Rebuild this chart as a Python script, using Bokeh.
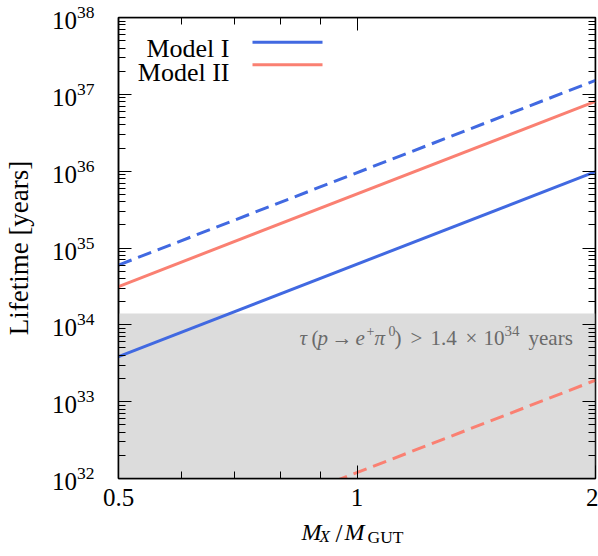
from bokeh.plotting import figure
from bokeh.layouts import column
from bokeh.models import (FixedTicker, LogAxis, Label, BoxAnnotation, Range1d,
                          BasicTickFormatter, CustomJSTickFormatter)
from bokeh.core.properties import value
from bokeh.embed import file_html
from bokeh.resources import INLINE

# ---- data ----
mass_ratio = [0.5, 2.0]                 # M_X / M_GUT
model1_solid = [3.85e33, 9.85e35]
model1_dashed = [6.0e34, 1.52e37]
model2_solid = [3.15e34, 8.1e36]
model2_dashed = [7.5e30, 1.9e33]
limit_lifetime = 1.4e34                 # bound on p -> e+ pi0
y_floor = 1e32

x_major = [0.5, 1, 2]
x_minor = [0.6, 0.7, 0.8, 0.9]
y_exponents = [32, 33, 34, 35, 36, 37, 38]
y_minor_mult = [2, 3, 4, 5, 6, 7, 8, 9]

BLUE = "#4169e1"
RED = "#fa8072"
GREY = "#6a6a6a"
SERIF = "Liberation Serif"

y_major = [10.0 ** e for e in y_exponents]
y_minor = [m * 10.0 ** e for e in y_exponents[:-1] for m in y_minor_mult]

W = 598
H_MAIN = 513
H_LAB = 35
B_LEFT, B_RIGHT = 118, 3

p = figure(width=W, height=H_MAIN, x_axis_type="log", y_axis_type="log",
           x_range=(mass_ratio[0], mass_ratio[-1]), y_range=(y_major[0], y_major[-1]),
           output_backend="svg", toolbar_location=None,
           min_border_left=B_LEFT, min_border_right=B_RIGHT, min_border_top=17,
           min_border_bottom=H_MAIN - 478)
p.xgrid.visible = False
p.ygrid.visible = False
p.outline_line_color = "black"
p.outline_line_width = 1.5

xticker = FixedTicker(ticks=x_major, minor_ticks=x_minor)
yticker = FixedTicker(ticks=y_major, minor_ticks=y_minor)


def style_axis(ax):
    ax.axis_line_color = "black"
    ax.axis_line_width = 1.5
    ax.major_tick_in = 13
    ax.major_tick_out = 0
    ax.minor_tick_in = 7
    ax.minor_tick_out = 0
    ax.major_tick_line_color = "black"
    ax.minor_tick_line_color = "black"
    ax.major_tick_line_width = 1
    ax.minor_tick_line_width = 1
    ax.major_label_text_font = SERIF
    ax.major_label_text_color = "black"
    ax.axis_label_text_font = SERIF
    ax.axis_label_text_font_style = "normal"
    ax.axis_label_text_color = "black"


xa = p.xaxis[0]
ya = p.yaxis[0]
xa.ticker = xticker
ya.ticker = yticker
style_axis(xa)
style_axis(ya)
xa.formatter = BasicTickFormatter()
xa.major_label_text_font_size = "25px"
xa.major_label_standoff = 10
ya.major_label_text_font_size = "25px"
ya.major_label_standoff = 24
ya.axis_label = "Lifetime [years]"
ya.axis_label_text_font_size = "27px"
ya.axis_label_standoff = 15

# mirrored tick marks on the top and right frame edges
blank = CustomJSTickFormatter(code="return ''")
top = LogAxis(ticker=xticker, formatter=blank, fixed_location=y_major[-1])
right = LogAxis(ticker=yticker, formatter=blank, fixed_location=mass_ratio[-1])
for ax in (top, right):
    style_axis(ax)
    ax.major_label_standoff = 0
    ax.major_label_text_font_size = "1px"
p.add_layout(top, "above")
p.add_layout(right, "right")

# excluded region
p.quad(left=[mass_ratio[0]], right=[mass_ratio[-1]], bottom=[y_floor], top=[limit_lifetime],
       fill_color="#dcdcdc", line_color=None)

# model curves
p.line(mass_ratio, model1_dashed, line_color=BLUE, line_width=3, line_dash="14 7")
p.line(mass_ratio, model2_solid, line_color=RED, line_width=3)
p.line(mass_ratio, model1_solid, line_color=BLUE, line_width=3)
p.line(mass_ratio, model2_dashed, line_color=RED, line_width=3, line_dash="14 7")


def frame_label(txt, x_img, y_img, size, style="normal", color=GREY, align="left"):
    # positions relative to the frame's bottom-left corner
    p.add_layout(Label(x=x_img, y=y_img, x_units="screen", y_units="screen",
                       text=txt, text_align=align, text_baseline="alphabetic",
                       text_font=SERIF, text_font_style=style, text_font_size=size,
                       text_color=color))


# annotation of experimental bound: tau(p -> e+ pi0) > 1.4 x 10^34 years
BL = 141
SUP = BL + 7
ann = [("τ", 181, BL, "21px", "italic"),
       ("(", 193, BL, "21px", "normal"),
       ("p", 199, BL, "21px", "italic"),
       ("→", 213, BL, "21px", "normal"),
       ("e", 237, BL, "21px", "italic"),
       ("+", 248, SUP, "14px", "normal"),
       ("π", 256, BL, "21px", "italic"),
       ("0", 270, SUP, "14px", "normal"),
       (")", 276, BL, "21px", "normal"),
       (">", 292, BL, "21px", "normal"),
       ("1.4", 312, BL, "21px", "normal"),
       ("×", 347, BL, "21px", "normal"),
       ("10", 365, BL, "21px", "normal"),
       ("34", 386, SUP, "15px", "normal"),
       ("years", 410, BL, "21px", "normal")]
for txt, xx, yy, fs, st in ann:
    frame_label(txt, xx, yy, fs, st)

# legend (label left of sample line)
legend_items = [("Model I", BLUE, 429.7, 436.3), ("Model II", RED, 406.3, 413.7)]
for name, col, base, ly in legend_items:
    frame_label(name, 111, base, "26px", "normal", "black", "right")
    p.add_layout(BoxAnnotation(left=134, right=204, bottom=ly - 1.5, top=ly + 1.5,
                               left_units="screen", right_units="screen",
                               bottom_units="screen", top_units="screen",
                               fill_color=col, fill_alpha=1.0, line_color=None))

# x-axis title strip  M_X / M_GUT ; its frame is aligned with the main frame,
# so its x range is expressed in page pixels
lab = figure(width=W, height=H_LAB, x_range=Range1d(B_LEFT, W - B_RIGHT),
             y_range=Range1d(0, H_LAB),
             output_backend="svg", toolbar_location=None, title_location=None,
             x_axis_location=None, y_axis_location=None,
             min_border_left=B_LEFT, min_border_right=B_RIGHT,
             min_border_top=0, min_border_bottom=0, outline_line_color=None)
lab.grid.visible = False
BASE = 17
SUB = 12
lab.text(x=[301, 344], y=[BASE, BASE], text=["M", "M"],
         text_font=value(SERIF), text_font_style="italic", text_font_size="24px",
         text_baseline="alphabetic", text_align="left", text_color="black")
lab.text(x=[319], y=[SUB], text=["X"],
         text_font=value(SERIF), text_font_style="italic", text_font_size="17px",
         text_baseline="alphabetic", text_align="left", text_color="black")
lab.text(x=[335], y=[BASE - 2], text=["/"],
         text_font=value(SERIF), text_font_style="normal", text_font_size="25px",
         text_baseline="alphabetic", text_align="left", text_color="black")
lab.text(x=[367], y=[SUB], text=["GUT"],
         text_font=value(SERIF), text_font_style="normal", text_font_size="17.5px",
         text_baseline="alphabetic", text_align="left", text_color="black")

layout = column(p, lab, spacing=0)
open("out.html", "w").write(file_html(layout, INLINE))
